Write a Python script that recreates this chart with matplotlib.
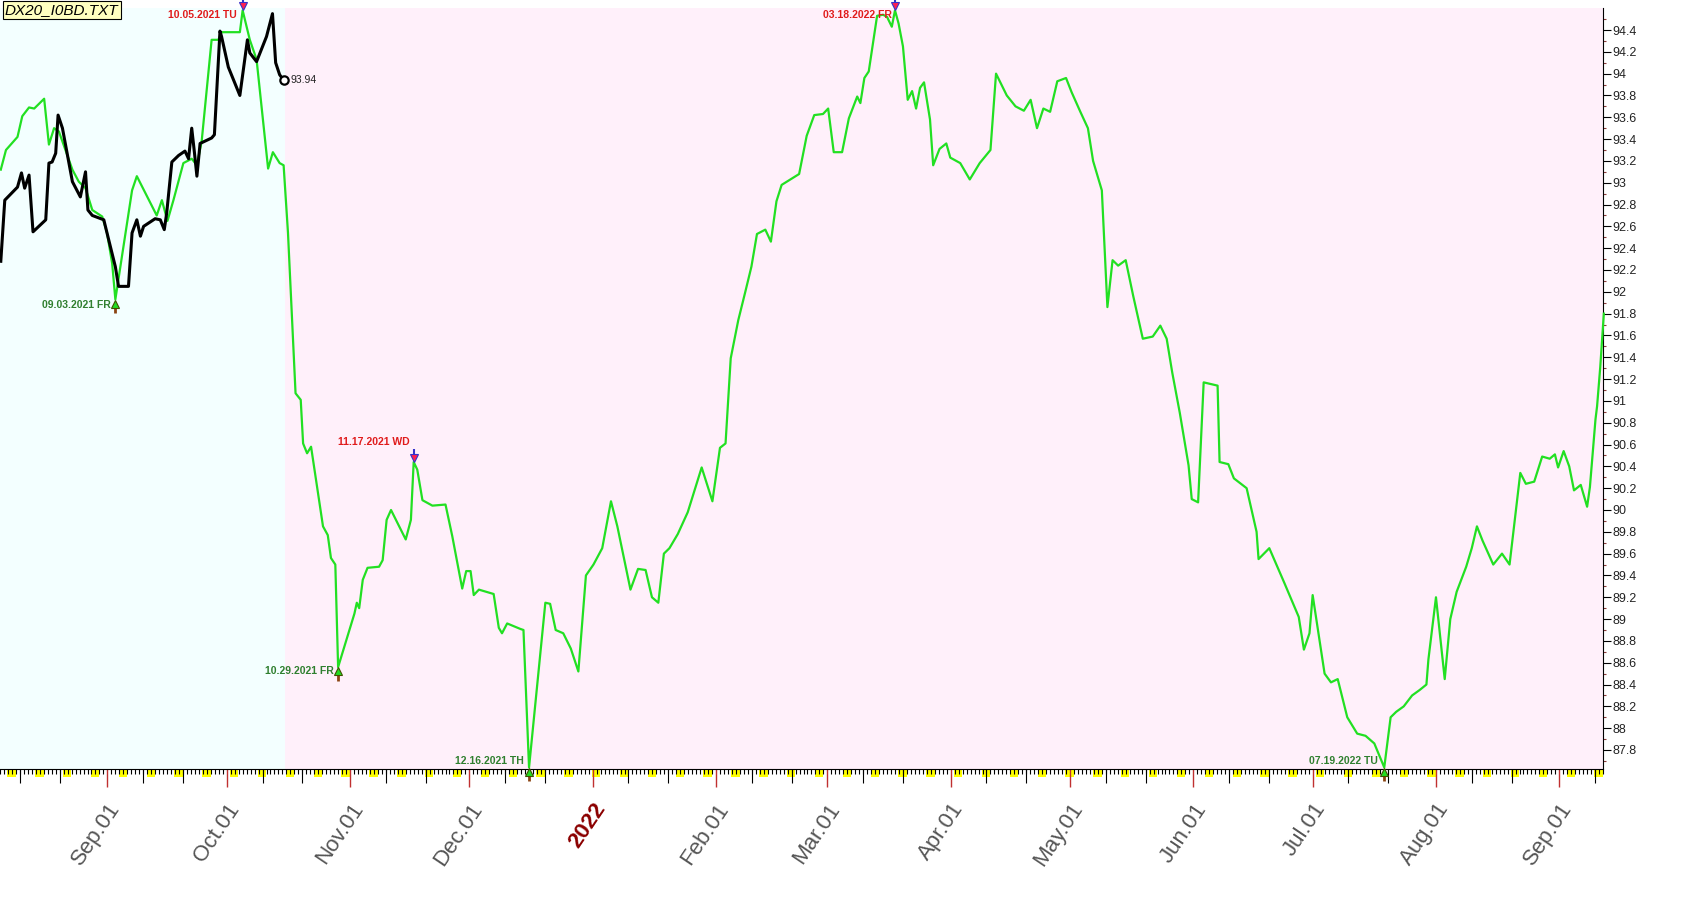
import numpy as np
import pandas as pd
import matplotlib.pyplot as plt
import matplotlib.dates as mdates
from matplotlib.patches import Rectangle
from matplotlib.transforms import blended_transform_factory, offset_copy

plt.rcParams['font.family'] = ['Liberation Sans', 'DejaVu Sans']

BASE = mdates.date2num(np.datetime64('2021-09-01'))

# x values are days after 2021-09-01
# black: actual series (ends 10.15.2021)
black_days = [-26.8, -25.8, -22.6, -21.6, -20.8, -19.7, -18.7, -15.5, -14.7, -13.9,
              -13.0, -12.4, -11.3, -8.8, -6.8, -5.5, -4.9, -3.8, -0.9, -0.1,
              2.0, 2.8, 5.3, 6.2, 7.4, 8.3, 9.1, 12.0, 13.3, 14.3,
              14.9, 16.2, 17.9, 19.5, 20.4, 21.2, 21.9, 22.5, 23.3, 26.2,
              26.9, 28.3, 28.7, 30.4, 33.3, 35.2, 35.8, 37.5, 40.0, 41.5,
              42.3, 43.3, 44.3]
black_vals = [92.28, 92.84, 92.96, 93.09, 92.95, 93.07, 92.55, 92.66, 93.18, 93.19,
              93.27, 93.62, 93.50, 93.01, 92.87, 93.10, 92.75, 92.70, 92.66, 92.54,
              92.23, 92.05, 92.05, 92.54, 92.66, 92.51, 92.60, 92.67, 92.66, 92.57,
              92.72, 93.19, 93.25, 93.29, 93.22, 93.50, 93.27, 93.06, 93.36, 93.41,
              93.44, 94.39, 94.34, 94.06, 93.80, 94.31, 94.19, 94.11, 94.34, 94.55,
              94.10, 93.99, 93.94]

# green: projection line
green_days = [-26.8, -25.5, -22.6, -21.4, -19.7, -18.4, -15.9, -14.7, -13.4, -12.2,
              -8.8, -7.2, -5.5, -3.8, -1.3, -0.1, 1.2, 2.0, 6.2, 7.4,
              12.4, 13.7, 15.1, 16.6, 19.1, 21.2, 22.5, 23.7, 26.2, 27.9,
              28.7, 33.3, 34.0, 35.8, 37.5, 40.4, 41.6, 43.3, 44.3, 45.4,
              46.2, 46.7, 47.3, 48.6, 49.2, 50.2, 51.2, 54.2, 55.4, 56.2,
              57.3, 58.0, 62.1, 62.7, 63.3, 64.2, 65.4, 68.3, 69.2, 70.2,
              71.3, 75.0, 76.3, 77.0, 77.9, 79.2, 81.7, 85.0, 86.7, 89.2,
              90.2, 91.3, 92.1, 93.4, 97.1, 98.4, 99.2, 100.5, 103.8, 104.6,
              106.0, 110.1, 111.3, 112.7, 114.6, 116.5, 118.4, 120.3, 122.2, 124.4,
              126.6, 128.2, 131.5, 133.4, 135.3, 136.9, 138.5, 139.9, 141.3, 143.4,
              145.9, 149.4, 152.1, 154.0, 155.4, 156.7, 158.6, 160.3, 161.9, 163.3,
              165.4, 166.8, 168.2, 169.5, 173.9, 175.8, 177.7, 179.9, 181.2, 182.6,
              184.7, 186.4, 188.5, 189.3, 190.3, 191.4, 193.5, 195.0, 196.0, 197.2,
              198.0, 198.9, 200.0, 201.2, 202.3, 203.3, 204.3, 205.3, 206.8, 207.6,
              209.2, 210.9, 211.9, 214.4, 216.8, 219.3, 222.0, 223.4, 226.1, 228.3,
              230.4, 232.1, 233.7, 235.3, 237.0, 238.8, 241.0, 242.4, 244.6, 246.5,
              247.8, 250.0, 251.4, 252.7, 254.1, 256.0, 257.9, 260.3, 262.8, 264.7,
              266.3, 267.7, 269.6, 271.8, 272.6, 274.2, 275.6, 279.1, 279.6, 281.8,
              283.2, 286.4, 288.9, 289.4, 292.1, 295.9, 299.5, 300.8, 302.2, 303.0,
              306.0, 307.6, 309.3, 311.7, 314.2, 316.3, 318.5, 321.0, 322.6, 324.0,
              325.9, 328.0, 329.9, 331.6, 332.1, 334.0, 336.2, 337.6, 339.2, 341.6,
              343.0, 344.3, 345.7, 348.4, 350.6, 352.5, 355.2, 356.6, 358.7, 360.7,
              362.6, 363.9, 364.7, 366.1, 367.5, 368.7, 370.4, 372.0, 372.7, 374.1,
              374.5, 375.3, 376.2]
green_vals = [93.12, 93.30, 93.42, 93.61, 93.69, 93.68, 93.77, 93.35, 93.50, 93.47,
              93.12, 93.01, 92.95, 92.75, 92.69, 92.54, 92.26, 91.93, 92.93, 93.06,
              92.70, 92.84, 92.65, 92.84, 93.18, 93.22, 93.16, 93.38, 94.31, 94.31,
              94.38, 94.38, 94.58, 94.31, 94.13, 93.13, 93.28, 93.18, 93.16, 92.54,
              91.93, 91.56, 91.07, 91.01, 90.61, 90.52, 90.58, 89.85, 89.77, 89.56,
              89.50, 88.56, 89.05, 89.15, 89.10, 89.36, 89.47, 89.48, 89.54, 89.91,
              90.00, 89.73, 89.91, 90.44, 90.37, 90.09, 90.04, 90.05, 89.76, 89.28,
              89.44, 89.44, 89.22, 89.27, 89.23, 88.92, 88.87, 88.96, 88.91, 88.90,
              87.64, 89.15, 89.14, 88.90, 88.87, 88.73, 88.52, 89.40, 89.50, 89.65,
              90.08, 89.85, 89.27, 89.46, 89.45, 89.20, 89.15, 89.60, 89.65, 89.78,
              89.98, 90.39, 90.08, 90.57, 90.61, 91.39, 91.74, 91.99, 92.23, 92.53,
              92.57, 92.46, 92.83, 92.98, 93.08, 93.43, 93.62, 93.63, 93.68, 93.28,
              93.28, 93.59, 93.79, 93.73, 93.96, 94.02, 94.53, 94.54, 94.52, 94.43,
              94.58, 94.46, 94.25, 93.76, 93.84, 93.68, 93.87, 93.92, 93.58, 93.16,
              93.31, 93.36, 93.23, 93.18, 93.03, 93.18, 93.30, 94.00, 93.80, 93.70,
              93.66, 93.76, 93.50, 93.68, 93.65, 93.93, 93.96, 93.83, 93.65, 93.50,
              93.20, 92.93, 91.86, 92.29, 92.24, 92.29, 91.96, 91.57, 91.59, 91.69,
              91.57, 91.26, 90.89, 90.41, 90.10, 90.07, 91.17, 91.14, 90.44, 90.42,
              90.29, 90.20, 89.80, 89.55, 89.65, 89.33, 89.02, 88.72, 88.87, 89.22,
              88.50, 88.42, 88.45, 88.10, 87.95, 87.93, 87.86, 87.64, 88.10, 88.15,
              88.20, 88.30, 88.35, 88.40, 88.63, 89.20, 88.45, 89.00, 89.25, 89.48,
              89.65, 89.85, 89.72, 89.50, 89.60, 89.50, 90.34, 90.24, 90.26, 90.49,
              90.47, 90.51, 90.39, 90.54, 90.40, 90.18, 90.23, 90.03, 90.21, 90.83,
              90.95, 91.31, 91.80]

# turning points of the projection
turn_days = [2.0, 34.0, 58.0, 77.0, 106.0, 198.0, 321.0]
turn_vals = [91.93, 94.58, 88.56, 90.44, 87.64, 94.58, 87.64]
turn_labels = ['09.03.2021 FR', '10.05.2021 TU', '10.29.2021 FR', '11.17.2021 WD',
               '12.16.2021 TH', '03.18.2022 FR', '07.19.2022 TU']
turn_kind = ['low', 'high', 'low', 'high', 'low', 'high', 'low']
# label offsets in pixels (dx, dy)
turn_offsets = [(-5, -6), (-6, -5), (-4, -4), (-4, 20), (-5, 6), (-3, -5), (-6, 6)]

last_close = 93.94
split_day = 44.6          # end of actual data / start of projection

x_lo, x_hi = -26.78, 374.4
y_lo, y_hi = 87.626, 94.602

fig = plt.figure(figsize=(17.03, 9.05), dpi=100)
ax = fig.add_axes([0, 0.1503, 0.9413, 0.8409])
ax_h_px = 0.8409 * 905

ax.set_xlim(BASE + x_lo, BASE + x_hi)
ax.set_ylim(y_lo, y_hi)

ax.axvspan(BASE + x_lo - 5, BASE + split_day, color='#f3ffff', lw=0, zorder=0)
ax.axvspan(BASE + split_day, BASE + x_hi + 5, color='#fff0fa', lw=0, zorder=0)

gx = BASE + np.array(green_days)
bx = BASE + np.array(black_days)
ax.plot(gx, green_vals, color='#22e022', lw=1.6, zorder=3, clip_on=False)
ax.plot(bx, black_vals, color='black', lw=2.2, zorder=4)
ax.plot(bx[-1], last_close, 'o', ms=6, mfc='white', mec='black', mew=1.6, zorder=5)
ax.annotate(f'{last_close:.2f}', xy=(bx[-1], last_close), xytext=(5, 0),
            textcoords='offset points', ha='left', va='center', fontsize=7.5, color='#222222')

# turning point arrows and labels
px = 0.72
for d, v, lab, kind, (dx, dy) in zip(turn_days, turn_vals, turn_labels, turn_kind, turn_offsets):
    x = BASE + d
    if kind == 'high':
        head = offset_copy(ax.transData, fig=fig, x=0, y=3, units='points')
        stem = offset_copy(ax.transData, fig=fig, x=0, y=7.5, units='points')
        ax.plot(x, v, marker='|', ms=4, mew=1.5, color='#3333cc', transform=stem, clip_on=False, zorder=6)
        ax.plot(x, v, marker='v', ms=6, mfc='#ff2050', mec='#3333cc', mew=0.8, transform=head, clip_on=False, zorder=7)
        col = '#e01b1b'
    else:
        head = offset_copy(ax.transData, fig=fig, x=0, y=-3, units='points')
        stem = offset_copy(ax.transData, fig=fig, x=0, y=-7.5, units='points')
        ax.plot(x, v, marker='|', ms=4, mew=2, color='#8b4513', transform=stem, clip_on=False, zorder=6)
        ax.plot(x, v, marker='^', ms=6, mfc='#22dd22', mec='#405000', mew=0.8, transform=head, clip_on=False, zorder=7)
        col = '#2f7f2f'
    ax.annotate(lab, xy=(x, v), xytext=(dx * px, dy * px), textcoords='offset points',
                ha='right', va='center', fontsize=7.5, fontweight='bold', color=col, zorder=8)

# axes frame
for s in ['top', 'left']:
    ax.spines[s].set_visible(False)
ax.spines['right'].set_linewidth(0.8)
ax.spines['bottom'].set_linewidth(0.8)

# y axis on the right
ax.yaxis.tick_right()
yt = np.round(np.arange(87.8, 94.41, 0.2), 1)
ax.set_yticks(yt, [f'{v:g}' for v in yt])
ax.set_yticks(np.round(np.arange(87.7, 94.6, 0.1), 1), minor=True)
ax.tick_params(axis='y', which='major', length=5.5, width=0.8, color='black',
               labelsize=9, labelcolor='#222222', pad=1)
ax.tick_params(axis='y', which='minor', length=2.4, width=0.8, color='#8b3a3a')

# x axis: months, days, weekends
months = pd.date_range('2021-09-01', '2022-09-01', freq='MS')
mx = mdates.date2num(months.to_numpy())
mlabels = [m.strftime('%Y') if m.month == 1 else m.strftime('%b.%d') for m in months]
ax.set_xticks(mx, mlabels)
days = pd.date_range('2021-08-05', '2022-09-12', freq='D')
ax.set_xticks(mdates.date2num(days.to_numpy()), minor=True)
ax.tick_params(axis='x', which='major', length=12.7, width=1, color='#c03030',
               labelsize=16, labelcolor='#555555', pad=9)
ax.tick_params(axis='x', which='minor', length=3.6, width=0.8, color='black')
for t in ax.get_xticklabels():
    t.set_rotation(56)
    t.set_ha('right')
    t.set_va('top')
    t.set_rotation_mode('anchor')
    if t.get_text() == '2022':
        t.set_color('#8b0000')
        t.set_fontweight('bold')

trans = blended_transform_factory(ax.transData, ax.transAxes)
tens = days[days.day.isin([10, 20])]
ax.vlines(mdates.date2num(tens.to_numpy()), 0, -13.7 / ax_h_px, transform=trans,
          color='black', lw=0.8, clip_on=False, zorder=2)
sats = days[days.dayofweek == 5]
for s in mdates.date2num(sats.to_numpy()):
    ax.add_patch(Rectangle((s - 0.15, -8 / ax_h_px), 2.1, 7.5 / ax_h_px, transform=trans,
                           facecolor='#ffff00', edgecolor='none', clip_on=False, zorder=1))

fig.text(5 / 1703, 1 - 3 / 905, 'DX20_I0BD.TXT', ha='left', va='top', fontsize=11,
         style='italic', color='black',
         bbox=dict(boxstyle='square,pad=0.15', fc='#ffffc0', ec='black', lw=0.8))

fig.savefig('out.png', dpi=100)
